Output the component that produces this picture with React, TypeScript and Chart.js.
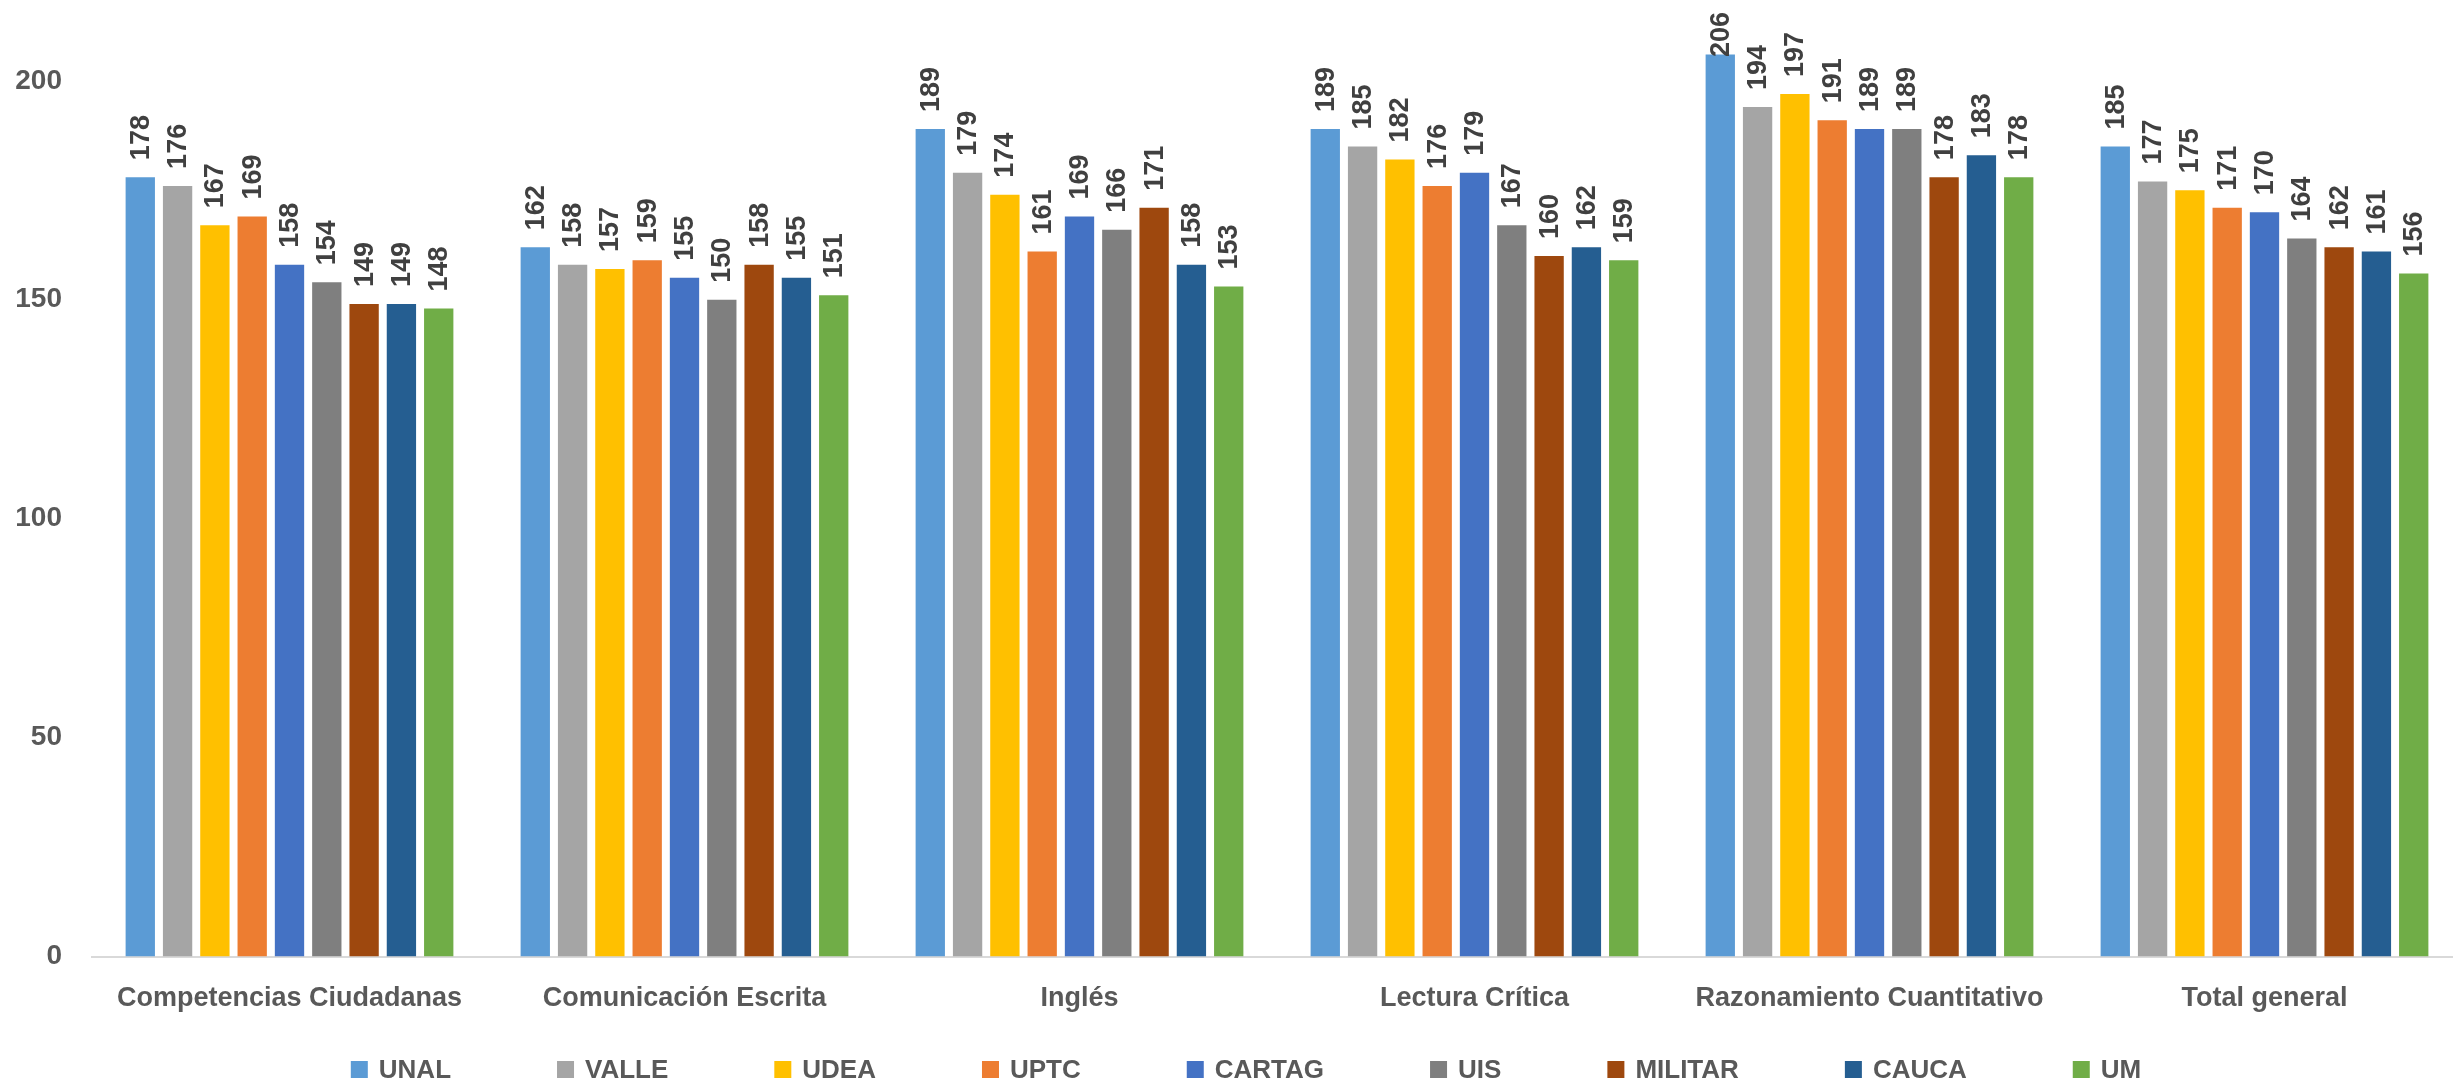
import React, { useEffect, useRef } from "react";
import { Chart, registerables } from "chart.js";

Chart.register(...registerables);

const categories = [
  "Competencias Ciudadanas",
  "Comunicación Escrita",
  "Inglés",
  "Lectura Crítica",
  "Razonamiento Cuantitativo",
  "Total general",
];

const seriesNames = ["UNAL", "VALLE", "UDEA", "UPTC", "CARTAG", "UIS", "MILITAR", "CAUCA", "UM"];

const UNAL = [178, 162, 189, 189, 206, 185];
const VALLE = [176, 158, 179, 185, 194, 177];
const UDEA = [167, 157, 174, 182, 197, 175];
const UPTC = [169, 159, 161, 176, 191, 171];
const CARTAG = [158, 155, 169, 179, 189, 170];
const UIS = [154, 150, 166, 167, 189, 164];
const MILITAR = [149, 158, 171, 160, 178, 162];
const CAUCA = [149, 155, 158, 162, 183, 161];
const UM = [148, 151, 153, 159, 178, 156];

const seriesValues = [UNAL, VALLE, UDEA, UPTC, CARTAG, UIS, MILITAR, CAUCA, UM];

const seriesColors = [
  "#5B9BD5",
  "#A5A5A5",
  "#FFC000",
  "#ED7D31",
  "#4472C4",
  "#7F7F7F",
  "#9E480E",
  "#255E91",
  "#70AD47",
];

const yTicks = [0, 50, 100, 150, 200];

const FONT = '"Liberation Sans", Arial, sans-serif';
const W = 2462;
const H = 1083;

const barLabelPlugin = {
  id: "barLabels",
  afterDatasetsDraw(chart: any) {
    const ctx = chart.ctx;
    ctx.save();
    ctx.font = `bold 27px ${FONT}`;
    ctx.fillStyle = "#404040";
    ctx.textAlign = "left";
    ctx.textBaseline = "middle";
    chart.data.datasets.forEach((ds: any, i: number) => {
      const meta = chart.getDatasetMeta(i);
      meta.data.forEach((bar: any, j: number) => {
        const text = String(ds.data[j]);
        const w = ctx.measureText(text).width;
        const yStart = Math.max(bar.y - 17, 12 + w);
        ctx.save();
        ctx.translate(bar.x + 1, yStart);
        ctx.rotate(-Math.PI / 2);
        ctx.fillText(text, 0, 0);
        ctx.restore();
      });
    });
    ctx.restore();
  },
};

const legendPlugin = {
  id: "customLegend",
  afterDraw(chart: any) {
    const ctx = chart.ctx;
    ctx.save();
    ctx.font = `bold 26px ${FONT}`;
    const box = 17;
    const gap = 11;
    const pad = 106;
    const items = chart.data.datasets.map((ds: any) => ({
      label: ds.label,
      color: ds.backgroundColor,
      w: box + gap + ctx.measureText(ds.label).width,
    }));
    const total = items.reduce((s: number, it: any) => s + it.w, 0) + pad * (items.length - 1);
    let x = 1246 - total / 2;
    const yc = 1069.5;
    ctx.textAlign = "left";
    ctx.textBaseline = "middle";
    items.forEach((it: any) => {
      ctx.fillStyle = it.color;
      ctx.fillRect(x, yc - box / 2, box, box);
      ctx.fillStyle = "#595959";
      ctx.fillText(it.label, x + box + gap, yc + 1);
      x += it.w + pad;
    });
    ctx.restore();
  },
};

export default function App() {
  const canvasRef = useRef<HTMLCanvasElement | null>(null);

  useEffect(() => {
    document.body.style.margin = "0";
    document.body.style.overflow = "hidden";
    const canvas = canvasRef.current;
    if (!canvas) return;
    const chart = new Chart(canvas, {
      type: "bar",
      data: {
        labels: categories,
        datasets: seriesNames.map((name, i) => ({
          label: name,
          data: seriesValues[i],
          backgroundColor: seriesColors[i],
          borderWidth: 0,
          barPercentage: 0.786,
          categoryPercentage: 0.85,
        })),
      },
      options: {
        responsive: false,
        animation: false,
        devicePixelRatio: 1,
        layout: { padding: { left: 15, top: 37, right: 0, bottom: 42 } },
        plugins: {
          legend: { display: false },
          tooltip: { enabled: false },
          title: { display: false },
        },
        scales: {
          x: {
            grid: { display: false, drawTicks: false },
            border: { display: true, color: "#D9D9D9", width: 2 },
            afterFit: (scale: any) => {
              scale.paddingLeft = 0;
              scale.paddingRight = 0;
            },
            ticks: {
              color: "#595959",
              font: { family: FONT, size: 27, weight: "bold" },
              padding: 26,
              maxRotation: 0,
              autoSkip: false,
            },
          },
          y: {
            min: 0,
            max: 210,
            grid: { display: false, drawTicks: false },
            border: { display: false },
            afterBuildTicks: (scale: any) => {
              scale.ticks = yTicks.map((v) => ({ value: v }));
            },
            afterFit: (scale: any) => {
              scale.width = 77;
              scale.paddingTop = 0;
              scale.paddingBottom = 0;
            },
            ticks: {
              color: "#595959",
              font: { family: FONT, size: 28, weight: "bold" },
              padding: 30,
            },
          },
        },
      },
      plugins: [barLabelPlugin, legendPlugin],
    });
    return () => chart.destroy();
  }, []);

  return (
    <div style={{ width: 2453, height: H, overflow: "hidden", position: "relative" }}>
      <canvas ref={canvasRef} width={W} height={H} style={{ display: "block", width: W, height: H }} />
    </div>
  );
}
